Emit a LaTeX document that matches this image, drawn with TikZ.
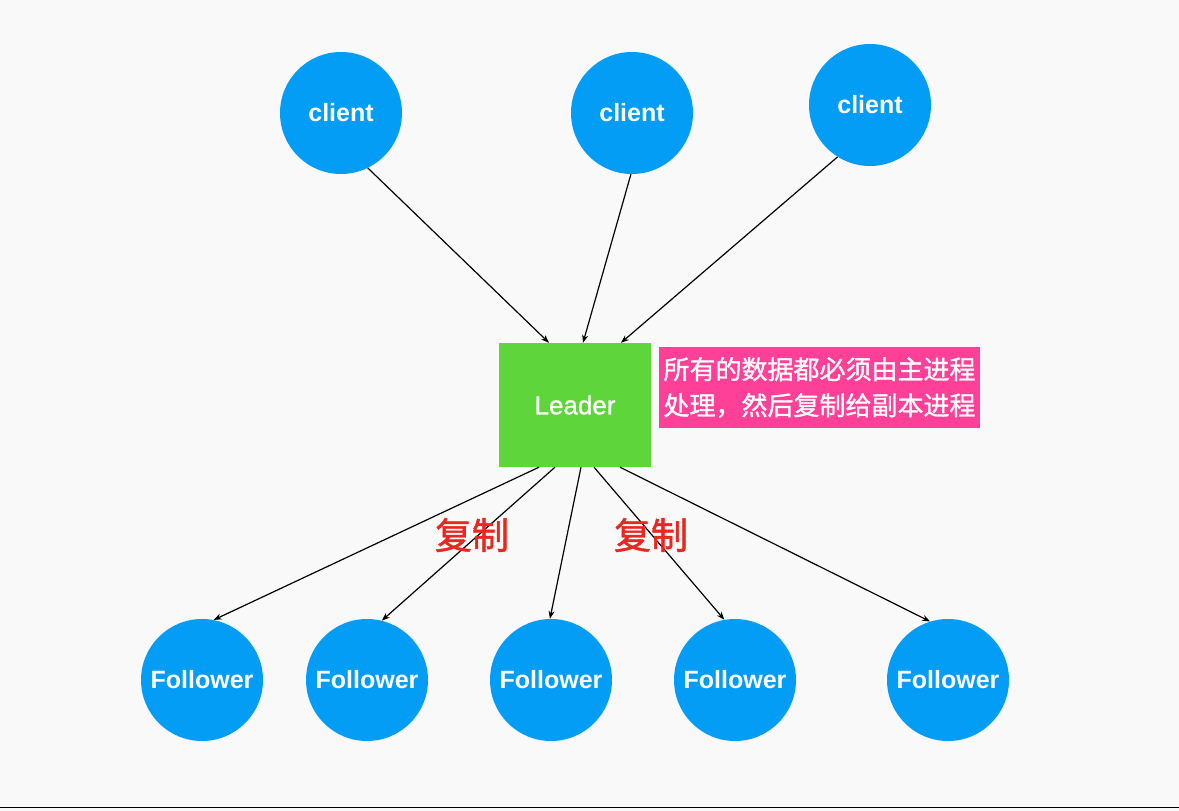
\documentclass[tikz,border=0pt]{standalone}
\usepackage{fontspec}
\setmainfont{Liberation Sans}
\newfontfamily\medfont[FakeBold=1]{Liberation Sans}
\newfontfamily\cjk{Noto Sans CJK SC}
\newfontfamily\cjkmed[FakeBold=1.2]{Noto Sans CJK SC}
\usetikzlibrary{arrows.meta}
\definecolor{bgcol}{RGB}{249,249,249}
\definecolor{nodeblue}{RGB}{3,157,246}
\definecolor{leadgreen}{RGB}{94,214,59}
\definecolor{notepink}{RGB}{255,64,152}
\definecolor{copyred}{RGB}{232,40,30}

\begin{document}
\begin{tikzpicture}[x=1pt,y=-1pt,
    peer/.style={circle,fill=nodeblue,minimum size=122pt,inner sep=0pt,text=white,font=\bfseries\fontsize{25}{30}\selectfont},
    link/.style={-{Stealth[length=8pt,width=6pt]},line width=1.2pt},
    copylabel/.style={text=copyred,inner sep=0pt,font=\cjkmed\fontsize{37}{40}\selectfont}]
    %background
    \fill[bgcol] (0,0) rectangle (1179,811);
    \useasboundingbox (0,0) rectangle (1179,811);
    \draw[line width=1.5pt] (0,807.5) -- (1179,807.5);
    %clients
    \foreach \n/\x/\y in {1/341/113, 2/632/113, 3/870/105} \node[peer] (c\n) at (\x,\y) {client};
    %leader and note
    \node[fill=leadgreen,minimum width=152pt,minimum height=124pt,inner sep=0pt,text=white,font=\medfont\fontsize{26}{30}\selectfont] (ld) at (575,405) {Leader};
    \node[fill=notepink,minimum width=321pt,minimum height=81pt,inner sep=0pt,text=white,align=center,font=\cjkmed\fontsize{26}{36}\selectfont] (note) at (819.5,387.5) {所有的数据都必须由主进程\\处理，然后复制给副本进程};
    %followers
    \foreach \n/\x in {1/202, 2/367, 3/551, 4/735, 5/948} \node[peer] (f\n) at (\x,680) {Follower};
    \foreach \n/\a/\s in {1/296/-26, 2/269/8, 3/238/46} {
        \draw[link] (c\n.\a) -- ([xshift=\s pt]ld.north); % clients to leader
    }
    \foreach \n/\s/\a in {1/-36/79, 2/-20/76, 3/6/91, 4/19/100, 5/45/107} {
        \draw[link] ([xshift=\s pt]ld.south) -- (f\n.\a); % leader to followers
    }
    \node[copylabel] (cp1) at (472,535) {复制};
    \node[copylabel] (cp2) at (651,535) {复制};
\end{tikzpicture}
\end{document}
